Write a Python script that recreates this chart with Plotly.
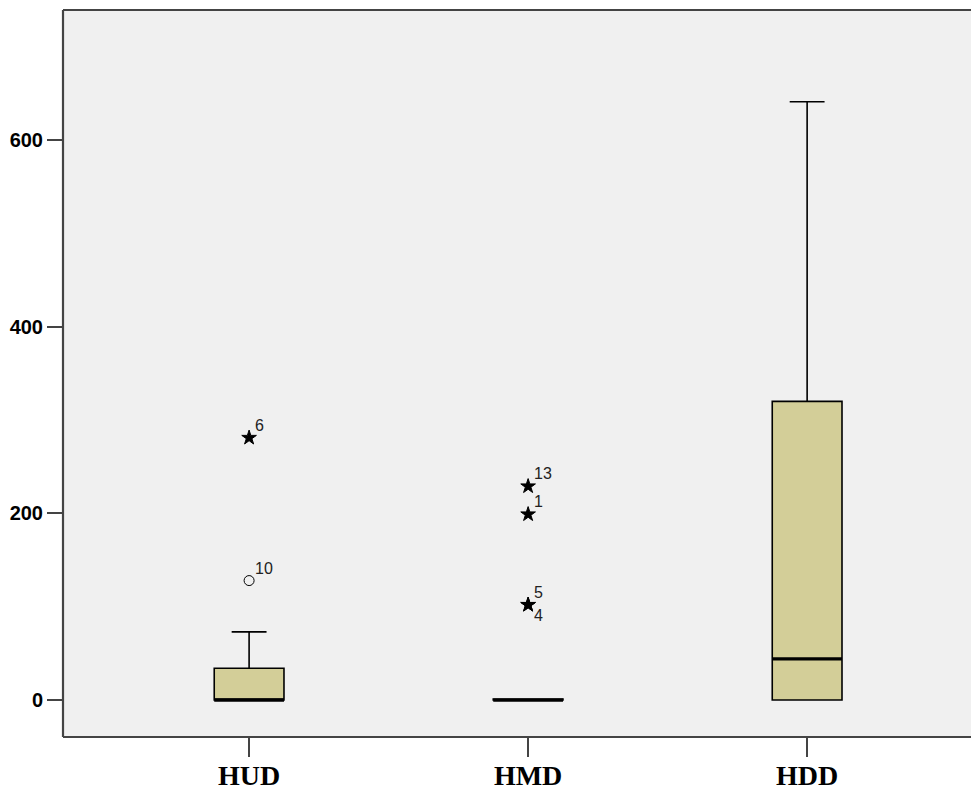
import plotly.graph_objects as go

categories = ["HUD", "HMD", "HDD"]
q1 = [0, 0, 0]
median = [0, 0, 44]
q3 = [34, 1, 320]
lower_whisker = [0, 0, 0]
upper_whisker = [73, 1, 641]

# outliers: (category, value, case label, marker type)
outlier_cat = ["HUD", "HUD", "HMD", "HMD", "HMD", "HMD"]
outlier_val = [281, 128, 229, 199, 102, 102]
outlier_lab = ["6", "10", "13", "1", "5", "4"]
outlier_sym = ["star", "circle-open", "star", "star", "star", "star"]
label_above = [True, True, True, True, True, False]

y_ticks = [0, 200, 400, 600]

box_fill = "#D3CE98"
axis_col = "#444444"
box_w = 0.25

pos = list(range(len(categories)))
idx = {c: i for i, c in enumerate(categories)}

fig = go.Figure()
fig.add_trace(go.Box(
    x=pos, q1=q1, median=median, q3=q3,
    lowerfence=lower_whisker, upperfence=upper_whisker,
    fillcolor=box_fill, line=dict(color="black", width=1.6),
    width=box_w, whiskerwidth=0.5, boxpoints=False, showlegend=False,
    hoverinfo="skip",
))

# thick median lines
mx, my = [], []
for i in pos:
    mx += [i - box_w / 2, i + box_w / 2, None]
    my += [median[i], median[i], None]
fig.add_trace(go.Scatter(x=mx, y=my, mode="lines", line=dict(color="black", width=3.2),
                         showlegend=False, hoverinfo="skip"))

# outliers
fig.add_trace(go.Scatter(
    x=[idx[c] for c in outlier_cat], y=outlier_val, mode="markers",
    marker=dict(symbol=outlier_sym, size=[11 if s == "star" else 10 for s in outlier_sym],
                color="black", opacity=1, line=dict(color="black", width=1)),
    opacity=1, showlegend=False, hoverinfo="skip",
))
for c, v, lab, above in zip(outlier_cat, outlier_val, outlier_lab, label_above):
    fig.add_annotation(x=idx[c], y=v, text=lab, showarrow=False,
                       xanchor="left", yanchor="bottom" if above else "top",
                       xshift=4, yshift=2 if above else 0,
                       font=dict(family="Liberation Sans, Arial", size=16, color="#222222"))

# frame lines (left, top, bottom)
for x0, y0, x1, y1 in [(0, 0, 0, 1), (0, 1, 1, 1), (0, 0, 1, 0)]:
    fig.add_shape(type="line", xref="paper", yref="paper", x0=x0, y0=y0, x1=x1, y1=y1,
                  line=dict(color=axis_col, width=2.2))

fig.update_layout(
    width=979, height=790,
    margin=dict(l=55, r=8, t=2, b=61),
    paper_bgcolor="white", plot_bgcolor="#F0F0F0",
    xaxis=dict(type="linear", range=[-0.667, 2.616], tickmode="array", tickvals=pos, ticktext=categories,
               showgrid=False, zeroline=False, showline=False, automargin=False,
               ticks="outside", ticklen=19, tickwidth=2, tickcolor=axis_col,
               ticklabelstandoff=-6,
               tickfont=dict(family="Liberation Serif, Times New Roman", size=28, color="black",
                             weight="bold")),
    yaxis=dict(range=[-39.6, 739.3], tickmode="array", tickvals=y_ticks,
               showgrid=False, zeroline=False, showline=False, automargin=False,
               ticks="outside", ticklen=15, tickwidth=2, tickcolor=axis_col,
               tickfont=dict(family="Liberation Sans, Arial", size=20, color="black", weight="bold")),
)

fig.write_html("out.html")
